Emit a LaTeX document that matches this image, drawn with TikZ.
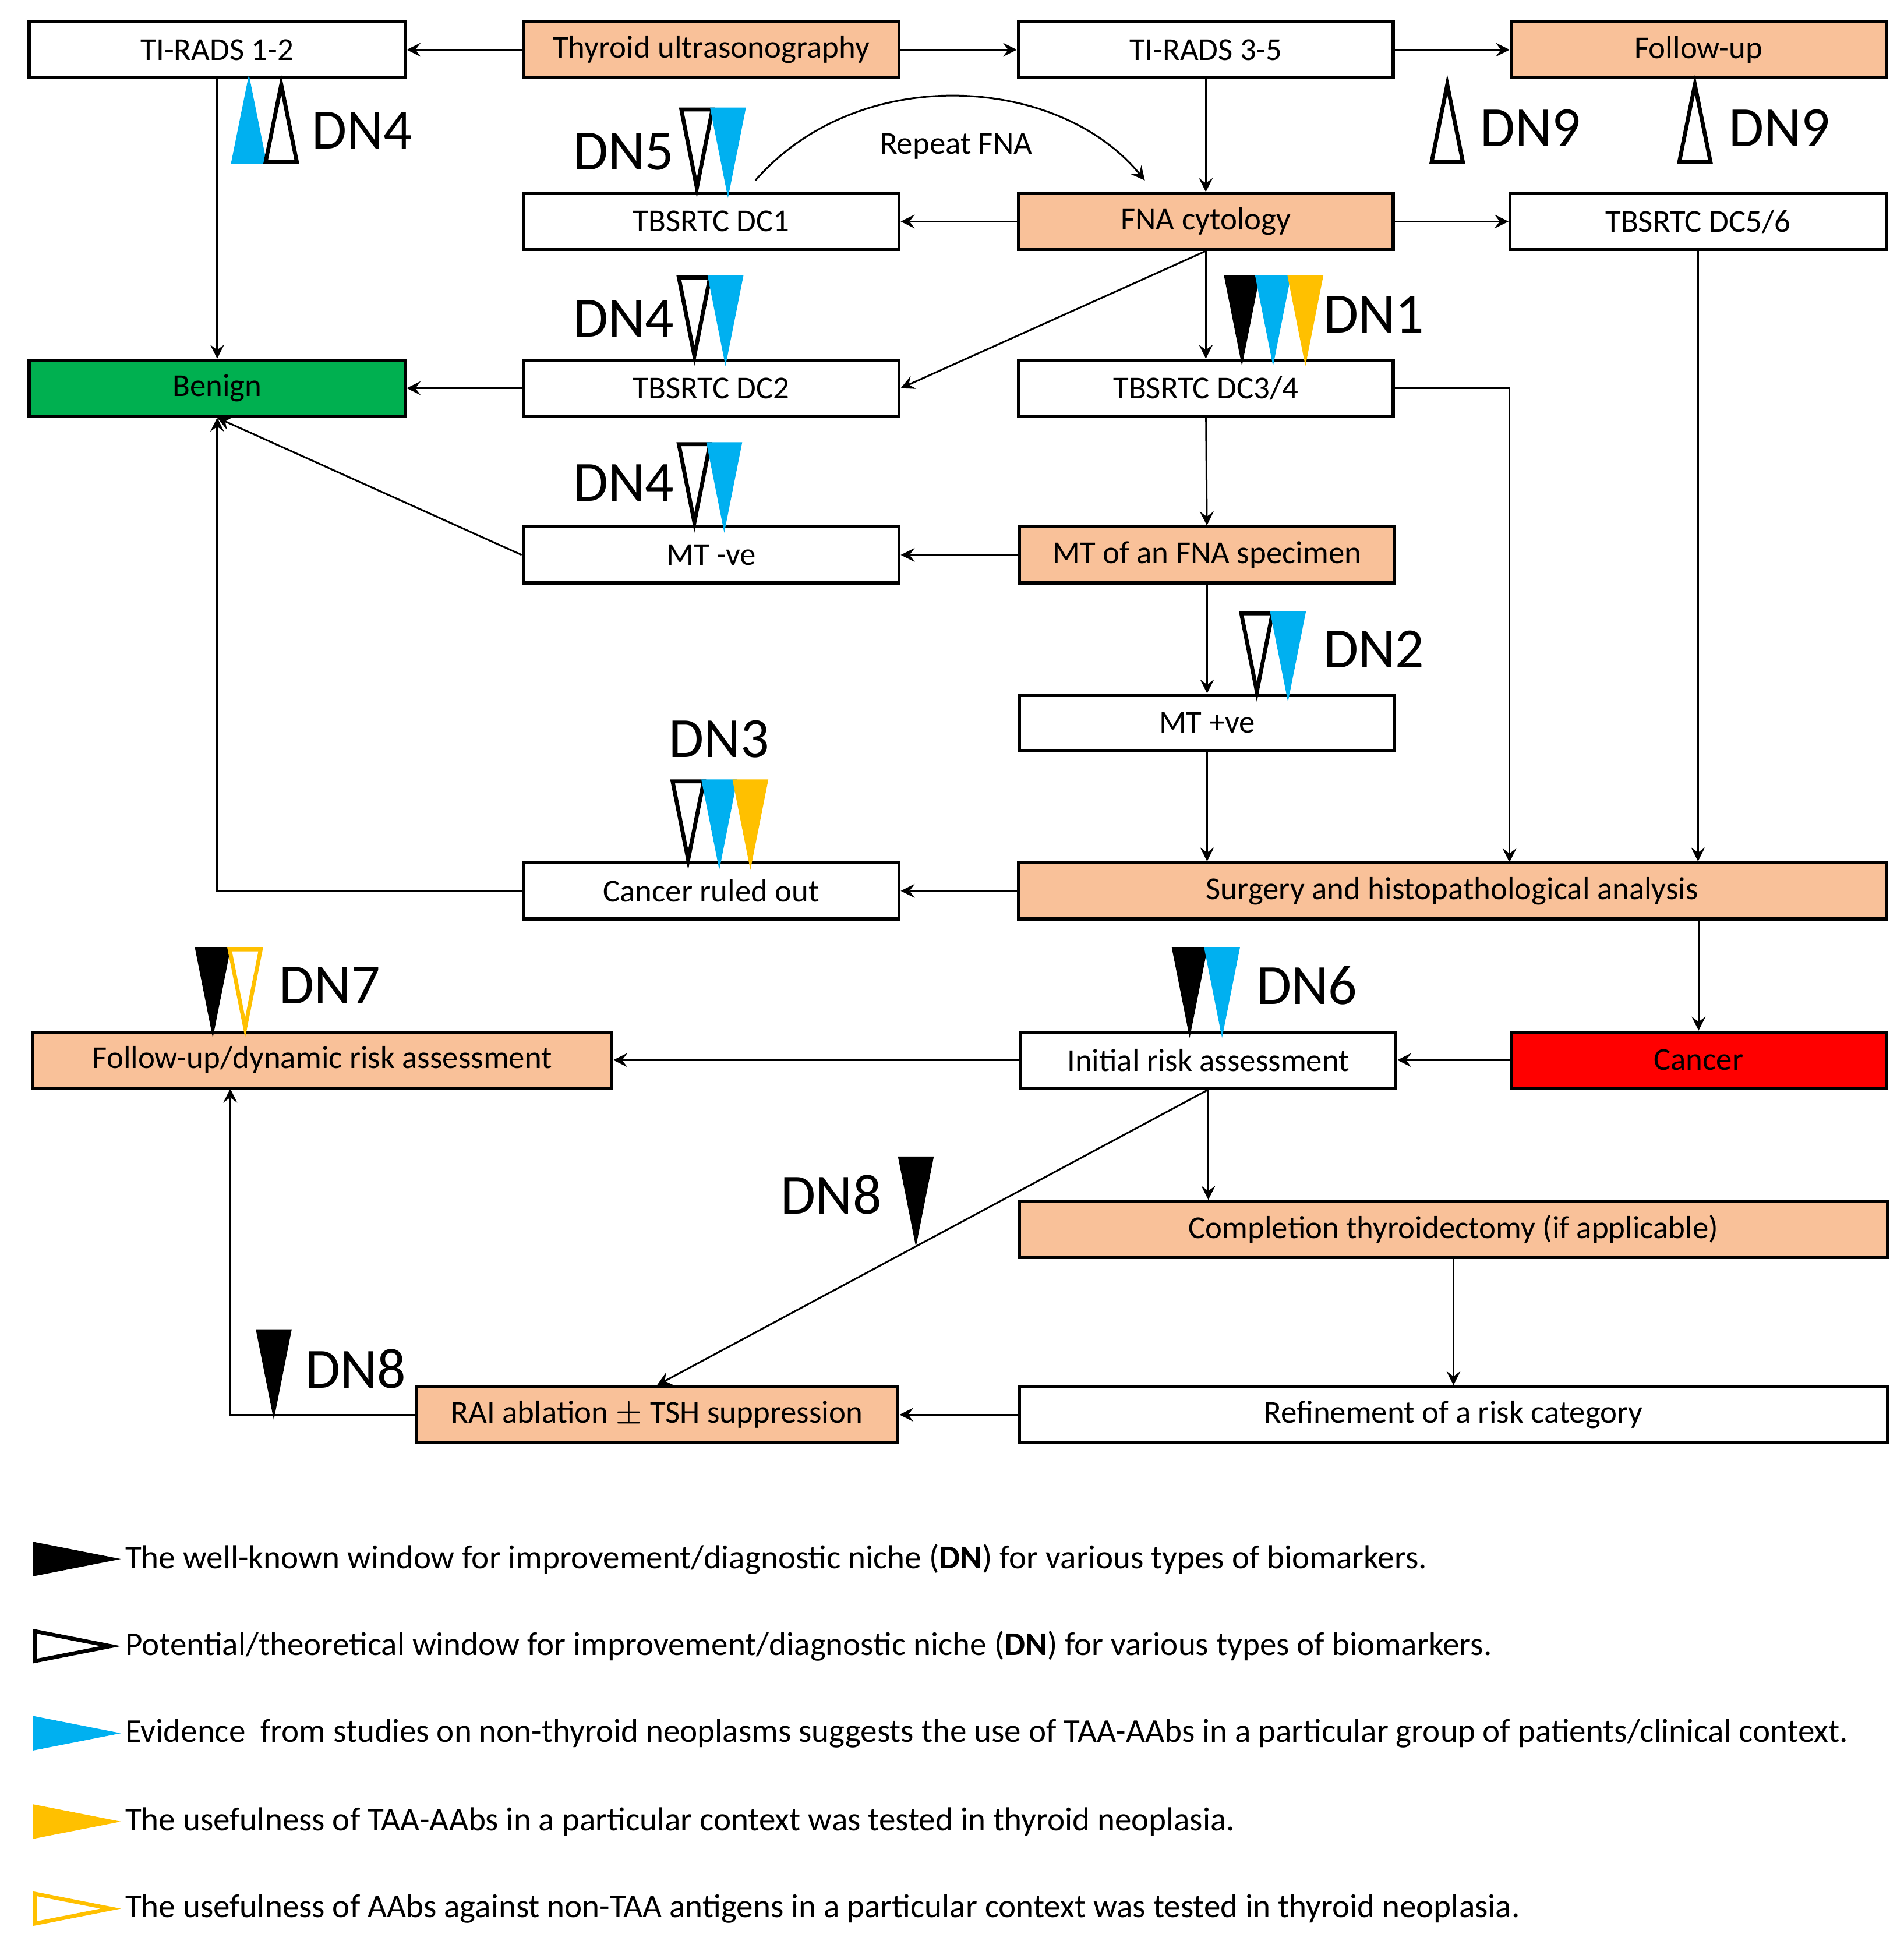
\documentclass[tikz,border=0pt]{standalone}
\usepackage{fontspec}
\setmainfont{Carlito}
\definecolor{boxorange}{HTML}{F9C199}
\definecolor{dnblue}{HTML}{00B0F0}
\definecolor{dnyellow}{HTML}{FFC000}
\definecolor{benigngreen}{HTML}{00B050}
\tikzset{
  box/.style={draw, line width=0.7pt, fill=white, minimum height=0.45cm, inner sep=1pt, font=\fontsize{7.3}{9}\selectfont},
  obox/.style={box, fill=boxorange},
  tri/.style={line width=0.9pt, line join=miter},
  dn/.style={font=\fontsize{13}{15}\selectfont, inner sep=0pt},
  lg/.style={anchor=west, font=\fontsize{7.6}{9}\selectfont, inner sep=0pt}
}
% down / up pointing niche markers: centre x, top (base) y, style
\newcommand{\tdown}[3]{\filldraw[tri,#3] (#1-12.5,#2) -- (#1+12.5,#2) -- (#1,#2+63) -- cycle;}
\newcommand{\tup}[3]{\filldraw[tri,#3] (#1-12.5,#2) -- (#1+12.5,#2) -- (#1,#2-62) -- cycle;}
\begin{document}
\begin{tikzpicture}[x=0.01cm, y=-0.01cm, >=stealth]
  \useasboundingbox (0,0) rectangle (1530,1560);
  % boxes
  \node[box, minimum width=3.02cm] (tr12) at (174.5,40) {TI-RADS 1-2};
  \node[obox, minimum width=3.02cm] (tus) at (571.5,40) {Thyroid ultrasonography};
  \node[box, minimum width=3.01cm] (tr35) at (969,40) {TI-RADS 3-5};
  \node[obox, minimum width=3.01cm] (fup) at (1365,40) {Follow-up};
  \node[box, minimum width=3.02cm] (dc1) at (571.5,178) {TBSRTC DC1};
  \node[obox, minimum width=3.01cm] (fna) at (969,178) {FNA cytology};
  \node[box, minimum width=3.02cm] (dc56) at (1364.5,178) {TBSRTC DC5/6};
  \node[box, fill=benigngreen, minimum width=3.02cm] (benign) at (174.5,312) {Benign};
  \node[box, minimum width=3.02cm] (dc2) at (571.5,312) {TBSRTC DC2};
  \node[box, minimum width=3.01cm] (dc34) at (969,312) {TBSRTC DC3/4};
  \node[box, minimum width=3.02cm] (mtn) at (571.5,446) {MT -ve};
  \node[obox, minimum width=3.01cm] (mtfna) at (970,446) {MT of an FNA specimen};
  \node[box, minimum width=3.01cm] (mtp) at (970,581) {MT +ve};
  \node[box, minimum width=3.02cm] (cro) at (571.5,716) {Cancer ruled out};
  \node[obox, minimum width=6.97cm] (surg) at (1167,716) {Surgery and histopathological analysis};
  \node[obox, minimum width=4.65cm] (fdra) at (259,852) {Follow-up/dynamic risk assessment};
  \node[box, minimum width=3.01cm] (ira) at (971,852) {Initial risk assessment};
  \node[box, fill=red, minimum width=3.01cm] (cancer) at (1365,852) {Cancer};
  \node[obox, minimum width=6.97cm] (comp) at (1168,988) {Completion thyroidectomy (if applicable)};
  \node[obox, minimum width=3.87cm] (rai) at (528,1137) {RAI ablation $\pm$ TSH suppression};
  \node[box, minimum width=6.97cm] (refine) at (1168,1137) {Refinement of a risk category};
  \coordinate (s34) at (1213,693);
  \coordinate (fd) at (185,875);
  \coordinate (rpa) at (607,145);
  \coordinate (rpb) at (920,145);
  % connectors
  \draw[->] (tus) -- (tr12);
  \draw[->] (tus) -- (tr35);
  \draw[->] (tr35) -- (fup);
  \draw[->] (tr35) -- (fna);
  \draw[->] (tr12) -- (benign);
  \draw[->] (fna) -- (dc1);
  \draw[->] (fna) -- (dc56);
  \draw[->] (fna) -- (dc34);
  \draw[->] (fna.south) -- (dc2.east);
  \draw[->] (rpa) .. controls (690,50) and (850,60) .. (rpb) node[pos=0.5, below=5pt, font=\fontsize{7.3}{9}\selectfont] {Repeat FNA};
  \draw[->] (dc2) -- (benign);
  \draw[->] (dc34) -- (mtfna);
  \draw[->] (dc34.east) -| (s34);
  \draw[->] (mtfna) -- (mtn);
  \draw[->] (mtfna) -- (mtp);
  \draw[->] (mtp.south) -- (mtp.south |- surg.north);
  \draw[->] (mtn.west) -- (benign.south);
  \draw[->] (dc56.south) -- (dc56.south |- surg.north);
  \draw[->] (surg.west) -- (cro.east);
  \draw[->] (cro.west) -| (benign.south);
  \draw[->] (surg.south -| cancer.north) -- (cancer.north);
  \draw[->] (cancer) -- (ira);
  \draw[->] (ira) -- (fdra);
  \draw[->] (ira.south) -- (ira.south |- comp.north);
  \draw[->] (ira.south) -- (rai.north);
  \draw[->] (comp.south) -- (refine.north);
  \draw[->] (refine) -- (rai);
  \draw[->] (rai.west) -| (fd);
  % diagnostic niches
  \tup{200}{130}{draw=dnblue, fill=dnblue}
  \tup{226}{130}{draw=black, fill=white}
  \node[dn] (dn4a) at (291,105) {DN4};
  \tdown{560}{88}{draw=black, fill=white}
  \tdown{585}{88}{draw=dnblue, fill=dnblue}
  \node[dn] (dn5) at (501,122) {DN5};
  \tdown{558}{223}{draw=black, fill=white}
  \tdown{583}{223}{draw=dnblue, fill=dnblue}
  \node[dn] (dn4b) at (501,256) {DN4};
  \tdown{558}{357}{draw=black, fill=white}
  \tdown{582}{357}{draw=dnblue, fill=dnblue}
  \node[dn] (dn4c) at (501,388) {DN4};
  \tdown{998}{223}{draw=black, fill=black}
  \tdown{1023}{223}{draw=dnblue, fill=dnblue}
  \tdown{1049}{223}{draw=dnyellow, fill=dnyellow}
  \node[dn] (dn1) at (1104,253) {DN1};
  \tup{1163}{130}{draw=black, fill=white}
  \node[dn] (dn9a) at (1230,103) {DN9};
  \tup{1362}{130}{draw=black, fill=white}
  \node[dn] (dn9b) at (1430,103) {DN9};
  \tdown{1010}{493}{draw=black, fill=white}
  \tdown{1035}{493}{draw=dnblue, fill=dnblue}
  \node[dn] (dn2) at (1104,522) {DN2};
  \tdown{553}{628}{draw=black, fill=white}
  \tdown{578}{628}{draw=dnblue, fill=dnblue}
  \tdown{603}{628}{draw=dnyellow, fill=dnyellow}
  \node[dn] (dn3) at (578,594) {DN3};
  \tdown{171}{763}{draw=black, fill=black}
  \tdown{197}{763}{draw=dnyellow, fill=white}
  \node[dn] (dn7) at (265,792) {DN7};
  \tdown{956}{763}{draw=black, fill=black}
  \tdown{982}{763}{draw=dnblue, fill=dnblue}
  \node[dn] (dn6) at (1050,792) {DN6};
  \tdown{736}{931}{draw=black, fill=black}
  \node[dn] (dn8a) at (668,960) {DN8};
  \tdown{220}{1070}{draw=black, fill=black}
  \node[dn] (dn8b) at (286,1100) {DN8};
  % legend
  \foreach \y/\dc/\fc in {1253/black/black, 1323/black/white, 1393/dnblue/dnblue, 1464/dnyellow/dnyellow, 1534/dnyellow/white}
    \filldraw[tri, draw=\dc, fill=\fc] (28,\y-12) -- (89,\y) -- (28,\y+12) -- cycle;
  \node[lg] (lg1) at (100,1253) {The well-known window for improvement/diagnostic niche (\textbf{DN}) for various types of biomarkers.};
  \node[lg] (lg2) at (100,1323) {Potential/theoretical window for improvement/diagnostic niche (\textbf{DN}) for various types of biomarkers.};
  \node[lg] (lg3) at (100,1393) {Evidence\ \ from studies on non-thyroid neoplasms suggests the use of TAA-AAbs in a particular group of patients/clinical context.};
  \node[lg] (lg4) at (100,1464) {The usefulness of TAA-AAbs in a particular context was tested in thyroid neoplasia.};
  \node[lg] (lg5) at (100,1534) {The usefulness of AAbs against non-TAA antigens in a particular context was tested in thyroid neoplasia.};
\end{tikzpicture}
\end{document}
